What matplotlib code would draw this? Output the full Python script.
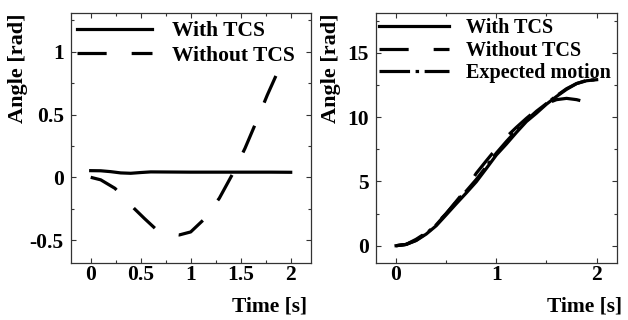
import matplotlib
matplotlib.use("Agg")
import matplotlib.pyplot as plt
from matplotlib.ticker import MultipleLocator

plt.rcParams['font.family'] = ['Liberation Serif', 'DejaVu Serif']
plt.rcParams['font.weight'] = 'bold'
plt.rcParams['lines.scale_dashes'] = False

# left panel: joint angle around zero
t_with_l = [0, 0.1, 0.2, 0.3, 0.4, 0.5, 0.6, 0.8, 1.0, 1.2, 1.4, 1.6, 1.8, 2.0]
ang_with_l = [0.053, 0.052, 0.045, 0.035, 0.032, 0.038, 0.043, 0.042, 0.041, 0.041, 0.041, 0.041, 0.041, 0.04]
t_wo_l = [0, 0.1, 0.243, 0.33, 0.433, 0.54, 0.643, 0.75, 0.886, 1.0, 1.126, 1.286, 1.426, 1.543, 1.66, 1.766, 1.886]
ang_wo_l = [0, -0.02, -0.088, -0.16, -0.247, -0.33, -0.406, -0.445, -0.459, -0.435, -0.34, -0.167, 0.037, 0.231, 0.45, 0.655, 0.868]

# right panel: large swing motion
t_r = [0, 0.1, 0.2, 0.3, 0.4, 0.5, 0.6, 0.7, 0.8, 0.9, 1.0, 1.1, 1.2, 1.3, 1.4, 1.5, 1.6, 1.7, 1.8, 1.9, 2.0]
ang_with_r = [0, 0.1, 0.4, 0.9, 1.55, 2.4, 3.26, 4.1, 4.97, 6.0, 7.05, 7.9, 8.8, 9.65, 10.3, 11.0, 11.6, 12.15, 12.6, 12.82, 12.9]
ang_exp_r = [0, 0.1, 0.42, 0.95, 1.62, 2.5, 3.4, 4.25, 5.15, 6.15, 7.2, 8.1, 8.95, 9.75, 10.45, 11.05, 11.65, 12.2, 12.6, 12.85, 12.9]
t_wo_r = [0, 0.1, 0.2, 0.3, 0.4, 0.5, 0.6, 0.7, 0.8, 0.9, 1.0, 1.1, 1.2, 1.3, 1.4, 1.5, 1.6, 1.7, 1.8, 1.9]
ang_wo_r = [0, 0.1, 0.5, 1.0, 1.7, 2.5, 3.45, 4.4, 5.63, 6.6, 7.55, 8.45, 9.2, 9.9, 10.55, 11.05, 11.35, 11.45, 11.35, 11.15]

fig = plt.figure(figsize=(6.28, 3.2), dpi=100)
W, H = 628, 320
ax1 = fig.add_axes([70.7 / W, 1 - 262.7 / H, 240 / W, 249.4 / H])
ax2 = fig.add_axes([376 / W, 1 - 262.7 / H, 240.7 / W, 249.4 / H])

lw = 2.3
ax1.plot(t_with_l, ang_with_l, color='black', lw=lw, label='With TCS')
ax1.plot(t_wo_l, ang_wo_l, color='black', lw=lw, ls=(0, (21, 18)), label='Without TCS')

ax2.plot(t_r, ang_with_r, color='black', lw=lw, label='With TCS')
ax2.plot(t_wo_r, ang_wo_r, color='black', lw=lw, ls=(0, (21, 18)), label='Without TCS')
ax2.plot(t_r, ang_exp_r, color='black', lw=lw, ls=(0, (22, 4, 2.5, 4)), label='Expected motion')

ax1.set_xlim(-0.2, 2.2)
ax1.set_ylim(-0.68, 1.306)
ax1.xaxis.set_major_locator(MultipleLocator(0.5))
ax1.xaxis.set_minor_locator(MultipleLocator(0.25))
ax1.yaxis.set_major_locator(MultipleLocator(0.5))
ax1.yaxis.set_minor_locator(MultipleLocator(0.25))

ax2.set_xlim(-0.2, 2.2)
ax2.set_ylim(-1.32, 18.06)
ax2.xaxis.set_major_locator(MultipleLocator(1))
ax2.xaxis.set_minor_locator(MultipleLocator(0.5))
ax2.yaxis.set_major_locator(MultipleLocator(5))
ax2.yaxis.set_minor_locator(MultipleLocator(2.5))

for ax in (ax1, ax2):
    ax.xaxis.set_major_formatter(plt.FuncFormatter(lambda v, p: '%g' % v))
    ax.yaxis.set_major_formatter(plt.FuncFormatter(lambda v, p: '%g' % v))
    ax.tick_params(which='both', direction='in', top=True, right=True, colors='#333333', labelcolor='black', labelsize=15.5, width=0.8)
    ax.tick_params(which='major', length=3.6)
    ax.tick_params(which='minor', length=2.2)
    ax.tick_params(axis='x', pad=2)
    ax.tick_params(axis='y', pad=5)
    for s in ax.spines.values():
        s.set_color('#333333')
        s.set_linewidth(0.9)

ax1.legend(loc='upper left', bbox_to_anchor=(0.026, 0.969), frameon=False, fontsize=15.5,
           handlelength=3.5, handletextpad=0.9, borderpad=0, borderaxespad=0, labelspacing=0.21)
ax2.legend(loc='upper left', bbox_to_anchor=(0.0125, 0.981), frameon=False, fontsize=14.5,
           handlelength=3.5, handletextpad=0.83, borderpad=0, borderaxespad=0, labelspacing=0.125)

fig.text(18.5 / W, 1 - 13.3 / H, 'Angle [rad]', rotation=90, ha='center', va='top', fontsize=16)
fig.text(331 / W, 1 - 13.3 / H, 'Angle [rad]', rotation=90, ha='center', va='top', fontsize=16)
fig.text(306.7 / W, 1 - 307 / H, 'Time [s]', ha='right', va='center', fontsize=15.5)
fig.text(621.7 / W, 1 - 307 / H, 'Time [s]', ha='right', va='center', fontsize=15.5)

fig.savefig('out.png', dpi=100)
